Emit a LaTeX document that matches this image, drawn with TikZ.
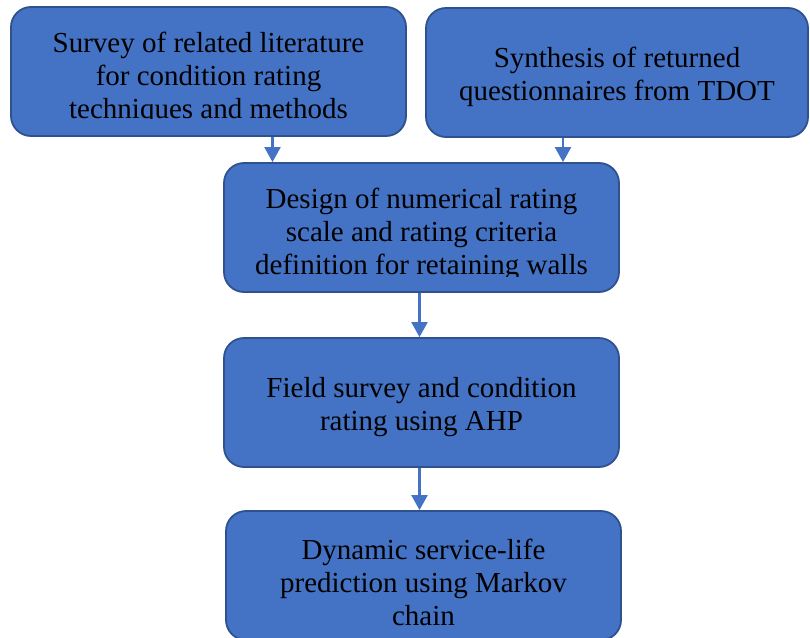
\documentclass[tikz,border=0pt]{standalone}
\usepackage{fontspec}
\setmainfont{Liberation Serif}
\usetikzlibrary{arrows.meta}
\definecolor{boxblue}{HTML}{4472C4}
\definecolor{boxedge}{HTML}{2F528F}
\begin{document}
\begin{tikzpicture}%
	[x=1pt, y=-1pt,
	stepbox/.style={draw=boxedge, fill=boxblue, line width=1.8pt, rounded corners=20pt,
		minimum width=395pt, minimum height=129pt, inner sep=0pt},
	steptext/.style={align=center, inner sep=0pt, font=\fontsize{29}{33}\selectfont},
	flow/.style={draw=boxblue, line width=2.2pt, -{Triangle[width=16pt,length=15pt]}}]
%
\useasboundingbox (0,0) rectangle (810,637);
%%
%% Drawing the boxes
%%
\node[stepbox] (lit) at (208.5,71.5) {};
\node[stepbox, minimum width=382pt] (syn) at (617,72.5) {};
\node[stepbox] (des) at (421.5,227.5) {};
\node[stepbox] (fld) at (421.5,402.5) {};
\node[stepbox] (dyn) at (423.5,575.5) {};
%%
%% Drawing the texts
%%
\begin{scope}
\clip (lit.north west) rectangle ([yshift=18pt]lit.south east);
\node[steptext] (litT) at ([yshift=-7pt]lit.center)
	{Survey of related literature\\for condition rating\\techniques and methods};
\end{scope}
\node[steptext] (synT) at ([yshift=-4.5pt]syn.center)
	{Synthesis of returned\\questionnaires from TDOT};
\begin{scope}
\clip (des.north west) rectangle ([yshift=16pt]des.south east);
\node[steptext] (desT) at ([yshift=-7pt]des.center)
	{Design of numerical rating\\scale and rating criteria\\definition for retaining walls};
\end{scope}
\node[steptext] (fldT) at ([yshift=-4.5pt]fld.center)
	{Field survey and condition\\rating using AHP};
\node[steptext] (dynT) at ([yshift=-6.5pt]dyn.center)
	{Dynamic service-life\\prediction using Markov\\chain};
%%
%% Drawing the arrows
%%
\draw[flow] ([xshift=64pt]lit.south) -- ([xshift=64pt]lit.south |- des.north);
\draw[flow] ([xshift=-54pt]syn.south) -- ([xshift=-54pt]syn.south |- des.north);
\draw[flow] ([xshift=-2pt]des.south) -- ([xshift=-2pt]des.south |- fld.north);
\draw[flow] ([xshift=-2pt]fld.south) -- ([xshift=-2pt]fld.south |- dyn.north);
%%
\end{tikzpicture}
\end{document}
